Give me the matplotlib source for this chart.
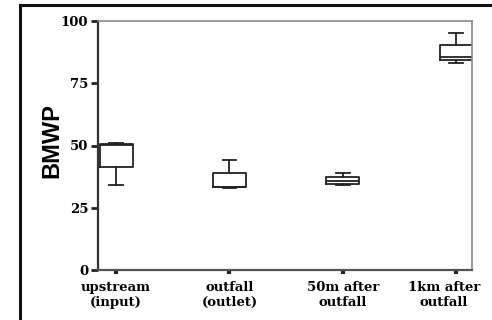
import matplotlib.pyplot as plt
import matplotlib.transforms as mtransforms
from matplotlib.patches import Rectangle

# BMWP summaries
sites = ["upstream\n(input)", "outfall\n(outlet)", "50m after\noutfall", "1km after\noutfall"]
whislo = [34.0, 33.0, 34.0, 83.0]
q1 = [41.5, 33.3, 34.6, 84.3]
med = [50.3, 33.5, 35.6, 85.4]
q3 = [50.6, 38.8, 37.5, 90.4]
whishi = [51.0, 44.0, 39.0, 95.0]
yticks = [0, 25, 50, 75, 100]

stats = []
for i in range(len(sites)):
    stats.append({"whislo": whislo[i], "q1": q1[i], "med": med[i],
                  "q3": q3[i], "whishi": whishi[i], "fliers": []})

fig = plt.figure(figsize=(4.92, 3.2), dpi=100)
ax = fig.add_axes([98/492, 1-270/320, 374/492, 249/320])

ax.bxp(stats, positions=range(len(sites)), widths=0.29, showfliers=False,
       boxprops=dict(color="#222222", linewidth=1.3),
       medianprops=dict(color="#222222", linewidth=1.3),
       whiskerprops=dict(color="#222222", linewidth=1.3),
       capprops=dict(color="#222222", linewidth=1.3),
       capwidths=0.12)

ax.set_xlim(-0.16, 3.14)
ax.set_ylim(0, 100)
ax.set_yticks(yticks)
ax.set_xticks(range(len(sites)))
ax.set_xticklabels(sites, family="DejaVu Serif", fontweight="bold", fontsize=9.5,
                   linespacing=1.15)
for lab in ax.get_yticklabels():
    lab.set_family("DejaVu Serif")
    lab.set_fontweight("bold")
    lab.set_fontsize(9.5)
ax.tick_params(axis="both", direction="out", length=5, width=2, color="#222222", pad=2)
ax.tick_params(axis="x", length=3, width=3, pad=5)

# the last label sits a little left of its tick in the original
last = ax.get_xticklabels()[-1]
last.set_transform(last.get_transform() + mtransforms.ScaledTranslation(-0.12, 0, fig.dpi_scale_trans))

ax.spines["left"].set_linewidth(1.6)
ax.spines["bottom"].set_linewidth(1.6)
ax.spines["left"].set_color("#333333")
ax.spines["bottom"].set_color("#555555")
ax.spines["top"].set_color("#888888")
ax.spines["right"].set_color("#888888")
ax.spines["top"].set_linewidth(1.2)
ax.spines["right"].set_linewidth(1.2)

ax.set_ylabel("BMWP", family="Liberation Sans", fontweight="bold", fontsize=17)
ax.yaxis.set_label_coords(-35/374, 0.52)

# outer frame of the panel
fig.patches.append(Rectangle((20/492, -0.05), 1.0, 1-5/320 + 0.05, transform=fig.transFigure,
                             fill=False, edgecolor="#111111", linewidth=2.2))

fig.savefig("out.png", dpi=100)
